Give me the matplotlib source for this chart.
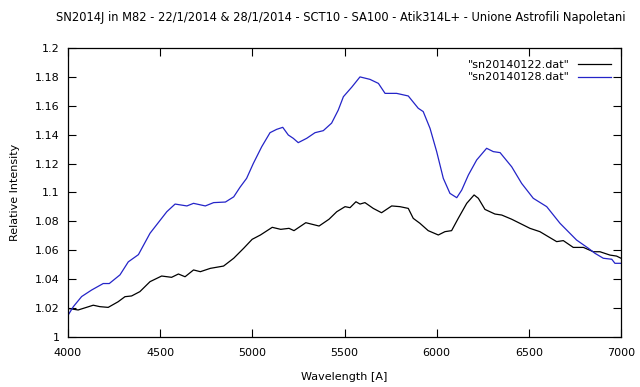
import matplotlib
matplotlib.use("Agg")
import matplotlib.pyplot as plt
from matplotlib.ticker import FuncFormatter, MultipleLocator

# Data
wl_0122 = [4000, 4055, 4100, 4137, 4173, 4218, 4272, 4309, 4345, 4390, 4445, 4508, 4562,
           4599, 4635, 4681, 4718, 4772, 4844, 4899, 4953, 4999, 5044, 5108, 5154, 5199,
           5226, 5290, 5362, 5416, 5458, 5503, 5530, 5562, 5584, 5611, 5656, 5701, 5756,
           5801, 5846, 5873, 5909, 5954, 6009, 6045, 6081, 6117, 6163, 6203, 6226, 6262,
           6316, 6353, 6407, 6470, 6506, 6560, 6606, 6651, 6687, 6741, 6796, 6850, 6886,
           6940, 6976, 7000]
int_0122 = [1.0198, 1.0187, 1.0205, 1.022, 1.021, 1.0205, 1.0244, 1.0279, 1.0284, 1.0314,
            1.0383, 1.0422, 1.0413, 1.0436, 1.0417, 1.0464, 1.0452, 1.0475, 1.0491, 1.0545,
            1.0614, 1.0676, 1.0706, 1.0759, 1.0745, 1.0752, 1.0736, 1.0791, 1.0768, 1.0815,
            1.0867, 1.0902, 1.0895, 1.0936, 1.092, 1.093, 1.089, 1.086, 1.0907, 1.0902,
            1.089, 1.0821, 1.0787, 1.0736, 1.0706, 1.0729, 1.0736, 1.0821, 1.0925, 1.0983,
            1.096, 1.0883, 1.0851, 1.0844, 1.0815, 1.0775, 1.0752, 1.0729, 1.0694, 1.066,
            1.0667, 1.062, 1.062, 1.059, 1.059, 1.0567, 1.056, 1.0545]

wl_0128 = [4000, 4029, 4074, 4128, 4191, 4224, 4282, 4327, 4382, 4445, 4536, 4581, 4645,
           4681, 4745, 4790, 4854, 4899, 4933, 4969, 5005, 5051, 5096, 5132, 5165, 5195,
           5222, 5249, 5295, 5340, 5385, 5430, 5466, 5494, 5540, 5584, 5638, 5684, 5720,
           5783, 5846, 5900, 5927, 5964, 6000, 6036, 6072, 6109, 6136, 6172, 6217, 6271,
           6307, 6344, 6407, 6461, 6524, 6597, 6669, 6759, 6823, 6859, 6904, 6950, 6967,
           7000]
int_0128 = [1.015, 1.021, 1.028, 1.0325, 1.037, 1.037, 1.043, 1.052, 1.057, 1.0718, 1.0867,
            1.092, 1.0907, 1.0925, 1.0907, 1.093, 1.0934, 1.097, 1.1036, 1.1098, 1.120,
            1.1317, 1.1414, 1.1437, 1.1451, 1.1398, 1.1375, 1.1345, 1.1375, 1.1414, 1.1428,
            1.148, 1.157, 1.1663, 1.173, 1.180, 1.1783, 1.1755, 1.1686, 1.1686, 1.1668,
            1.1583, 1.156, 1.1444, 1.1283, 1.1098, 1.0994, 1.0964, 1.1017, 1.1121, 1.1225,
            1.1306, 1.1283, 1.1276, 1.1178, 1.1063, 1.096, 1.0902, 1.0787, 1.0671, 1.0614,
            1.0579, 1.0545, 1.0538, 1.051, 1.051]

labels = ['"sn20140122.dat"', '"sn20140128.dat"']
title = "SN2014J in M82 - 22/1/2014 & 28/1/2014 - SCT10 - SA100 - Atik314L+ - Unione Astrofili Napoletani"

plt.rcParams['font.family'] = ['DejaVu Sans']
fig = plt.figure(figsize=(6.4, 3.87), dpi=100)
ax = fig.add_axes([68/640, 50/387, (621-68)/640, (337-48)/387])

ax.plot(wl_0122, int_0122, color='#000000', lw=0.9, label=labels[0])
ax.plot(wl_0128, int_0128, color='#2424c8', lw=0.9, label=labels[1])

ax.set_xlim(4000, 7000)
ax.set_ylim(1.0, 1.2)
ax.xaxis.set_major_locator(MultipleLocator(500))
ax.yaxis.set_major_locator(MultipleLocator(0.02))
ax.yaxis.set_major_formatter(FuncFormatter(lambda v, p: '%g' % round(v, 4)))
ax.tick_params(direction='in', top=True, right=True, length=6, width=0.8,
               labelsize=8, pad=6)
ax.tick_params(axis='x', pad=8)
for s in ax.spines.values():
    s.set_linewidth(0.9)

ax.set_xlabel('Wavelength [A]', fontsize=8, labelpad=10)
ax.set_ylabel('Relative Intensity', fontsize=8, labelpad=11)
fig.text(341/640, 1 - 17/387, title, ha='center', va='center', fontsize=8.3)

leg = ax.legend(loc='upper right', frameon=False, markerfirst=False, fontsize=8,
                handlelength=3.0, handletextpad=0.7, borderaxespad=0.0,
                labelspacing=0.25, bbox_to_anchor=(0.99, 0.975))
for t in leg.get_texts():
    t.set_ha('right')

fig.savefig('out.png', dpi=100)
